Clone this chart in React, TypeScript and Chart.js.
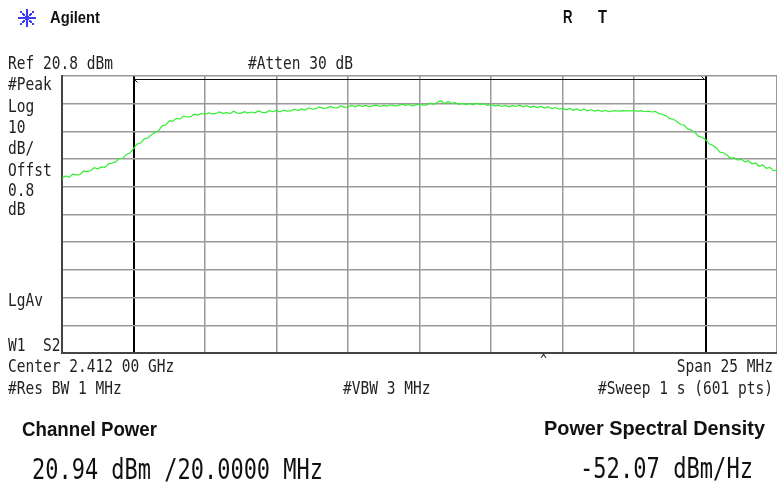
import { useEffect, useRef } from "react";
import { Chart, registerables } from "chart.js";

Chart.register(...registerables);

// ---- Data ----
const CENTER_MHZ = 2412;
const SPAN_MHZ = 25;
const START_MHZ = CENTER_MHZ - SPAN_MHZ / 2; // 2399.5
const STEP_MHZ = 0.125;
const REF_LEVEL = 20.8;
const DB_PER_DIV = 10;
const Y_LEVELS = [-79.2, -69.2, -59.2, -49.2, -39.2, -29.2, -19.2, -9.2, 0.8, 10.8, 20.8];
const X_GRID = [2399.5, 2402, 2404.5, 2407, 2409.5, 2412, 2414.5, 2417, 2419.5, 2422, 2424.5];
const CHANNEL_EDGES = [2402, 2422];

const TRACE = [
  -16.2, -15.3, -15.8, -14.6, -14.9, -14.8, -13.5, -13.7, -13.4, -12.3,
  -12.7, -12.0, -12.2, -10.9, -10.6, -10.2, -9.0, -8.9, -7.5, -7.0,
  -5.4, -3.8, -3.4, -1.9, -1.6, -0.4, 0.3, 1.0, 2.8, 3.1,
  4.6, 4.5, 5.5, 5.2, 6.3, 6.0, 6.1, 7.0, 6.7, 7.3,
  7.0, 7.5, 7.1, 7.2, 7.8, 7.3, 7.6, 7.2, 8.1, 7.4,
  7.3, 7.9, 7.4, 7.8, 7.5, 8.2, 7.7, 7.6, 8.3, 7.9,
  8.4, 7.9, 8.5, 8.1, 8.2, 8.8, 8.3, 8.9, 8.5, 9.3,
  8.8, 9.0, 9.6, 9.1, 9.2, 9.8, 9.4, 9.3, 10.0, 9.5,
  9.7, 10.2, 9.7, 10.3, 9.8, 10.2, 9.7, 10.1, 10.3, 9.8,
  10.2, 9.9, 10.4, 10.0, 10.1, 10.6, 10.2, 10.5, 10.0, 10.4,
  10.6, 10.3, 10.4, 11.0, 10.6, 11.3, 11.9, 10.9, 11.6, 10.9,
  11.2, 10.6, 10.9, 10.5, 10.9, 10.4, 11.0, 10.5, 10.8, 10.2,
  10.5, 10.0, 10.3, 9.8, 10.2, 9.7, 10.1, 9.8, 10.3, 9.7,
  10.1, 9.5, 9.9, 9.4, 9.8, 9.2, 9.7, 9.0, 9.4, 8.8,
  9.1, 8.6, 9.1, 8.4, 8.9, 8.3, 8.8, 8.2, 8.6, 8.1,
  8.5, 8.0, 8.4, 7.9, 8.2, 8.2, 8.1, 8.3, 8.2, 8.2,
  8.4, 8.0, 8.3, 7.9, 8.1, 7.8, 8.0, 7.2, 6.9, 6.4,
  5.4, 5.2, 4.4, 3.3, 3.1, 1.7, 1.3, 0.5, -0.9, -1.3,
  -2.1, -3.7, -4.2, -5.1, -6.7, -6.9, -7.7, -8.9, -8.7, -9.6,
  -9.2, -10.3, -9.8, -10.9, -10.6, -11.8, -11.3, -12.5, -12.2, -13.4,
  -13.2,
];

const LEFT_LABELS: [string, number][] = [
  ["#Peak", 84],
  ["Log", 106],
  ["10", 127],
  ["dB/", 148],
  ["Offst", 170],
  ["0.8", 190],
  ["dB", 209],
  ["LgAv", 300],
  ["W1  S2", 345],
];

const MONO = "DejaVu Sans Mono";
const SANS = "Liberation Sans";
const ADVANCE = 8.75;

function drawMono(ctx: CanvasRenderingContext2D, text: string, x: number, yMid: number, align: "left" | "right" = "left", size = 17, adv = ADVANCE, color = "#222") {
  ctx.save();
  ctx.font = `${size}px "${MONO}"`;
  ctx.fillStyle = color;
  ctx.textBaseline = "alphabetic";
  ctx.textAlign = "left";
  const natural = ctx.measureText(text).width;
  const target = text.length * adv;
  const s = target / natural;
  const left = align === "left" ? x : x - target;
  const cap = size * 0.729;
  ctx.translate(left, yMid + cap / 2);
  ctx.scale(s, 1);
  ctx.fillText(text, 0, 0);
  ctx.restore();
}

function drawFit(ctx: CanvasRenderingContext2D, text: string, x: number, yMid: number, width: number, font: string, capRatio: number, size: number, color = "#111") {
  ctx.save();
  ctx.font = font;
  ctx.fillStyle = color;
  ctx.textBaseline = "alphabetic";
  ctx.textAlign = "left";
  const natural = ctx.measureText(text).width;
  const s = width / natural;
  ctx.translate(x, yMid + (size * capRatio) / 2);
  ctx.scale(s, 1);
  ctx.fillText(text, 0, 0);
  ctx.restore();
}

const annotations = {
  id: "annotations",
  afterDatasetsDraw(chart: any) {
    const ctx: CanvasRenderingContext2D = chart.ctx;
    const xs = chart.scales.x;
    const top = chart.chartArea.top;
    // channel arrow line
    const x0 = xs.getPixelForValue(CHANNEL_EDGES[0]);
    const x1 = xs.getPixelForValue(CHANNEL_EDGES[1]);
    const ya = Math.round(top + 3) + 0.5;
    ctx.save();
    ctx.strokeStyle = "#111";
    ctx.lineWidth = 1;
    ctx.beginPath();
    ctx.moveTo(x0, ya);
    ctx.lineTo(x1, ya);
    ctx.moveTo(x0 + 1, ya);
    ctx.lineTo(x0 + 4, ya + 3);
    ctx.moveTo(x1 - 1, ya);
    ctx.lineTo(x1 - 4, ya - 3);
    ctx.stroke();
    ctx.restore();
  },
  afterDraw(chart: any) {
    const ctx: CanvasRenderingContext2D = chart.ctx;
    // Agilent logo
    ctx.save();
    const cx = 27, cy = 18;
    ctx.fillStyle = "#3a3af0";
    for (let k = 0; k < 8; k++) {
      const a = (k * Math.PI) / 4;
      for (let r = 2; r <= 9; r += 2) {
        ctx.fillRect(Math.round(cx + Math.cos(a) * r) - 1, Math.round(cy + Math.sin(a) * r) - 1, 2, 2);
      }
    }
    ctx.fillRect(cx - 1, cy - 1, 2, 2);
    ctx.restore();
    drawFit(ctx, "Agilent", 50, 17.5, 50, `bold 16px "${SANS}"`, 0.716, 16, "#111");
    drawFit(ctx, "R", 563, 16.5, 9.5, `bold 18px "${SANS}"`, 0.716, 18, "#111");
    drawFit(ctx, "T", 598, 16.5, 9, `bold 18px "${SANS}"`, 0.716, 18, "#111");

    // header
    drawMono(ctx, `Ref ${REF_LEVEL} dBm`, 8, 63);
    drawMono(ctx, "#Atten 30 dB", 248, 63);
    for (const [t, y] of LEFT_LABELS) drawMono(ctx, t, 8, y);

    // footer
    drawMono(ctx, "Center 2.412 00 GHz", 8, 366);
    drawMono(ctx, "#Res BW 1 MHz", 8, 388);
    drawMono(ctx, "#VBW 3 MHz", 343, 388);
    drawMono(ctx, `Span ${SPAN_MHZ} MHz`, 773, 366, "right");
    drawMono(ctx, "#Sweep 1 s (601 pts)", 773, 388, "right");
    drawMono(ctx, "^", 540, 360, "left", 14, 7);

    // results
    drawFit(ctx, "Channel Power", 22, 429, 135, `bold 20px "${SANS}"`, 0.716, 20, "#111");
    drawFit(ctx, "Power Spectral Density", 544, 428, 221, `bold 20px "${SANS}"`, 0.716, 20, "#111");
    drawFit(ctx, "20.94 dBm /20.0000 MHz", 32, 469, 291, `28px "${MONO}"`, 0.729, 28, "#111");
    drawFit(ctx, "-52.07 dBm/Hz", 580, 468, 173, `28px "${MONO}"`, 0.729, 28, "#111");
  },
};

export default function App() {
  const ref = useRef<HTMLCanvasElement | null>(null);
  useEffect(() => {
    if (!ref.current) return;
    const data = TRACE.map((v, i) => ({ x: START_MHZ + i * STEP_MHZ, y: v }));
    const isEdge = (v: number) => CHANNEL_EDGES.some((e) => Math.abs(e - v) < 1e-6);
    const chart = new Chart(ref.current, {
      type: "line",
      data: {
        datasets: [
          {
            data,
            borderColor: "#33ee33",
            borderWidth: 1.2,
            pointRadius: 0,
            tension: 0,
            fill: false,
          },
        ],
      },
      options: {
        responsive: false,
        animation: false,
        devicePixelRatio: 1,
        events: [],
        layout: { padding: { left: 62, top: 76, right: 0, bottom: 132 } },
        plugins: { legend: { display: false }, tooltip: { enabled: false }, title: { display: false } },
        scales: {
          x: {
            type: "linear",
            min: START_MHZ,
            max: START_MHZ + SPAN_MHZ,
            afterBuildTicks: (axis: any) => {
              axis.ticks = X_GRID.map((v) => ({ value: v }));
            },
            ticks: { display: false },
            grid: {
              drawTicks: false,
              color: (c: any) => (isEdge(c.tick?.value) ? "#000" : "#999"),
              lineWidth: (c: any) => (isEdge(c.tick?.value) ? 2 : 1.5),
            },
            border: { display: true, color: "#444", width: 2 },
          },
          y: {
            type: "linear",
            min: REF_LEVEL - 10 * DB_PER_DIV,
            max: REF_LEVEL,
            afterBuildTicks: (axis: any) => {
              axis.ticks = Y_LEVELS.map((v) => ({ value: v }));
            },
            ticks: { display: false },
            grid: { drawTicks: false, color: "#999", lineWidth: 1.5 },
            border: { display: true, color: "#444", width: 2 },
          },
        },
      },
      plugins: [annotations],
    });
    return () => chart.destroy();
  }, []);
  return (
    <div style={{ position: "absolute", left: 0, top: 0, width: 777, height: 485, background: "#fff" }}>
      <canvas ref={ref} width={777} height={485} style={{ display: "block", width: 777, height: 485 }} />
    </div>
  );
}
